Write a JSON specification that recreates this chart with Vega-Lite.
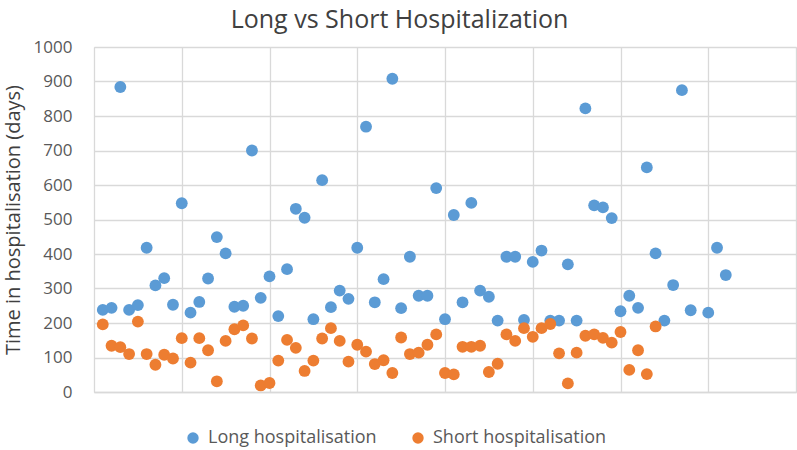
{
  "$schema": "https://vega.github.io/schema/vega-lite/v6.json",
  "width": 702,
  "height": 345,
  "autosize": {"type": "none"},
  "padding": {"left": 94, "top": 47, "right": 1, "bottom": 58},
  "background": "white",
  "title": {
    "text": "Long vs Short Hospitalization",
    "font": "Open Sans",
    "fontSize": 25,
    "fontWeight": "normal",
    "color": "#404040",
    "anchor": "middle",
    "frame": "bounds",
    "offset": 5
  },
  "datasets": {
    "long": [
      {"i": 1, "d": 238}, {"i": 2, "d": 244}, {"i": 3, "d": 884}, {"i": 4, "d": 238}, {"i": 5, "d": 252},
      {"i": 6, "d": 418}, {"i": 7, "d": 309}, {"i": 8, "d": 330}, {"i": 9, "d": 253}, {"i": 10, "d": 547},
      {"i": 11, "d": 230}, {"i": 12, "d": 261}, {"i": 13, "d": 329}, {"i": 14, "d": 449}, {"i": 15, "d": 402},
      {"i": 16, "d": 247}, {"i": 17, "d": 250}, {"i": 18, "d": 700}, {"i": 19, "d": 273}, {"i": 20, "d": 335},
      {"i": 21, "d": 220}, {"i": 22, "d": 356}, {"i": 23, "d": 531}, {"i": 24, "d": 505}, {"i": 25, "d": 211},
      {"i": 26, "d": 614}, {"i": 27, "d": 246}, {"i": 28, "d": 294}, {"i": 29, "d": 270}, {"i": 30, "d": 418},
      {"i": 31, "d": 769}, {"i": 32, "d": 260}, {"i": 33, "d": 327}, {"i": 34, "d": 908}, {"i": 35, "d": 243},
      {"i": 36, "d": 392}, {"i": 37, "d": 279}, {"i": 38, "d": 279}, {"i": 39, "d": 591}, {"i": 40, "d": 211},
      {"i": 41, "d": 513}, {"i": 42, "d": 260}, {"i": 43, "d": 548}, {"i": 44, "d": 294}, {"i": 45, "d": 276},
      {"i": 46, "d": 207}, {"i": 47, "d": 392}, {"i": 48, "d": 392}, {"i": 49, "d": 209}, {"i": 50, "d": 377},
      {"i": 51, "d": 410}, {"i": 52, "d": 207}, {"i": 53, "d": 207}, {"i": 54, "d": 370}, {"i": 55, "d": 207},
      {"i": 56, "d": 822}, {"i": 57, "d": 541}, {"i": 58, "d": 535}, {"i": 59, "d": 504}, {"i": 60, "d": 234},
      {"i": 61, "d": 279}, {"i": 62, "d": 244}, {"i": 63, "d": 651}, {"i": 64, "d": 402}, {"i": 65, "d": 207},
      {"i": 66, "d": 310}, {"i": 67, "d": 875}, {"i": 68, "d": 237}, {"i": 70, "d": 230}, {"i": 71, "d": 418},
      {"i": 72, "d": 339}
    ],
    "short": [
      {"i": 1, "d": 196}, {"i": 2, "d": 134}, {"i": 3, "d": 130}, {"i": 4, "d": 110}, {"i": 5, "d": 204},
      {"i": 6, "d": 110}, {"i": 7, "d": 79}, {"i": 8, "d": 108}, {"i": 9, "d": 97}, {"i": 10, "d": 156},
      {"i": 11, "d": 85}, {"i": 12, "d": 156}, {"i": 13, "d": 121}, {"i": 14, "d": 31}, {"i": 15, "d": 148},
      {"i": 16, "d": 182}, {"i": 17, "d": 193}, {"i": 18, "d": 155}, {"i": 19, "d": 19}, {"i": 20, "d": 26},
      {"i": 21, "d": 91}, {"i": 22, "d": 151}, {"i": 23, "d": 128}, {"i": 24, "d": 61}, {"i": 25, "d": 91},
      {"i": 26, "d": 155}, {"i": 27, "d": 185}, {"i": 28, "d": 148}, {"i": 29, "d": 88}, {"i": 30, "d": 137},
      {"i": 31, "d": 117}, {"i": 32, "d": 81}, {"i": 33, "d": 92}, {"i": 34, "d": 55}, {"i": 35, "d": 158},
      {"i": 36, "d": 110}, {"i": 37, "d": 114}, {"i": 38, "d": 137}, {"i": 39, "d": 167}, {"i": 40, "d": 55},
      {"i": 41, "d": 51}, {"i": 42, "d": 131}, {"i": 43, "d": 131}, {"i": 44, "d": 134}, {"i": 45, "d": 58},
      {"i": 46, "d": 82}, {"i": 47, "d": 167}, {"i": 48, "d": 148}, {"i": 49, "d": 185}, {"i": 50, "d": 160},
      {"i": 51, "d": 185}, {"i": 52, "d": 197}, {"i": 53, "d": 112}, {"i": 54, "d": 25}, {"i": 55, "d": 114},
      {"i": 56, "d": 163}, {"i": 57, "d": 167}, {"i": 58, "d": 157}, {"i": 59, "d": 143}, {"i": 60, "d": 174},
      {"i": 61, "d": 64}, {"i": 62, "d": 121}, {"i": 63, "d": 52}, {"i": 64, "d": 190}
    ]
  },
  "encoding": {
    "x": {
      "field": "i", "type": "quantitative",
      "scale": {"domain": [0, 80], "nice": false},
      "axis": {
        "title": null, "labels": false, "ticks": false,
        "values": [0, 10, 20, 30, 40, 50, 60, 70, 80],
        "grid": true, "gridColor": "#D9D9D9", "gridWidth": 1.3,
        "domainColor": "#D9D9D9", "domainWidth": 1.3
      }
    },
    "y": {
      "field": "d", "type": "quantitative",
      "scale": {"domain": [0, 1000], "nice": false},
      "axis": {
        "title": "Time in hospitalisation (days)",
        "titleFont": "Open Sans", "titleFontSize": 20, "titleFontWeight": "normal", "titleColor": "#404040",
        "titlePadding": 10,
        "labelFont": "Open Sans", "labelFontSize": 17, "labelColor": "#595959", "labelPadding": 22,
        "format": "d",
        "values": [0, 100, 200, 300, 400, 500, 600, 700, 800, 900, 1000],
        "ticks": false, "domain": false,
        "grid": true, "gridColor": "#D9D9D9", "gridWidth": 1.3
      }
    },
    "color": {
      "field": "s", "type": "nominal",
      "scale": {"domain": ["Long hospitalisation", "Short hospitalisation"], "range": ["#5B9BD5", "#ED7D31"]},
      "legend": {
        "title": null, "orient": "none", "direction": "horizontal",
        "legendX": 90, "legendY": 382,
        "symbolType": "circle", "symbolSize": 130, "symbolStrokeWidth": 0,
        "labelFont": "Open Sans", "labelFontSize": 18, "labelColor": "#595959",
        "labelOffset": 6, "columnPadding": 32, "labelLimit": 300
      }
    }
  },
  "layer": [
    {
      "data": {"name": "long"},
      "transform": [{"calculate": "'Long hospitalisation'", "as": "s"}],
      "mark": {"type": "point", "filled": true, "opacity": 1, "size": 140, "shape": "circle"}
    },
    {
      "data": {"name": "short"},
      "transform": [{"calculate": "'Short hospitalisation'", "as": "s"}],
      "mark": {"type": "point", "filled": true, "opacity": 1, "size": 140, "shape": "circle"}
    }
  ]
}
